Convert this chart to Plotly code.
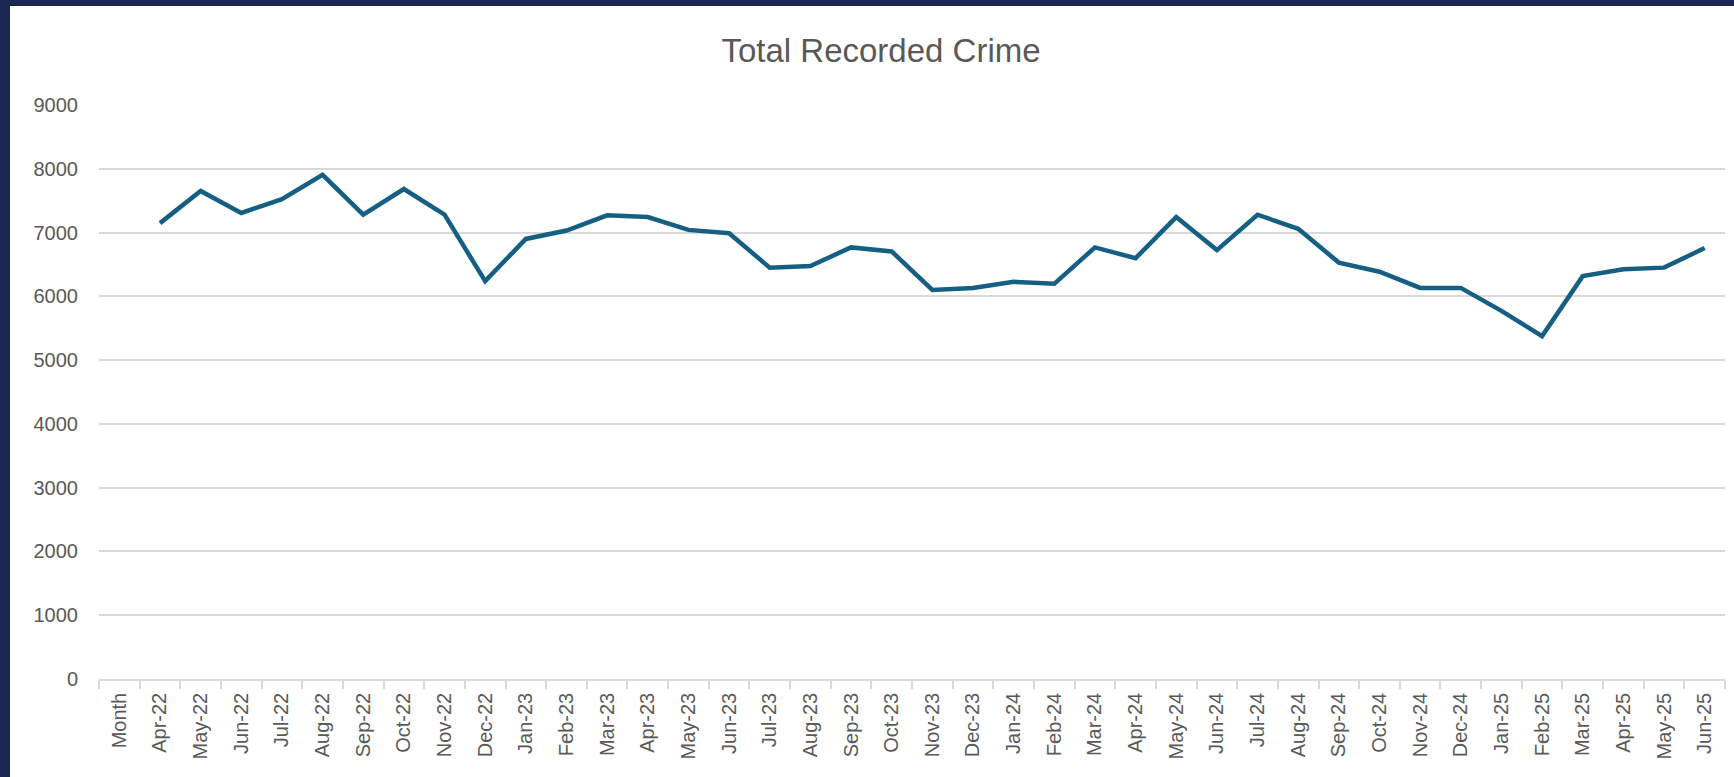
import plotly.graph_objects as go

months = ["Month",
          "Apr-22", "May-22", "Jun-22", "Jul-22", "Aug-22", "Sep-22", "Oct-22", "Nov-22", "Dec-22",
          "Jan-23", "Feb-23", "Mar-23", "Apr-23", "May-23", "Jun-23", "Jul-23", "Aug-23", "Sep-23",
          "Oct-23", "Nov-23", "Dec-23", "Jan-24", "Feb-24", "Mar-24", "Apr-24", "May-24", "Jun-24",
          "Jul-24", "Aug-24", "Sep-24", "Oct-24", "Nov-24", "Dec-24", "Jan-25", "Feb-25", "Mar-25",
          "Apr-25", "May-25", "Jun-25"]

total_crime = [None,
               7148, 7651, 7307, 7524, 7905, 7280, 7683, 7280, 6238,
               6900, 7032, 7270, 7243, 7042, 6990, 6450, 6476, 6767,
               6704, 6100, 6132, 6228, 6196, 6767, 6598, 7243, 6725,
               7280, 7058, 6529, 6386, 6132, 6132, 5772, 5376, 6317,
               6423, 6450, 6757]

y_ticks = [0, 1000, 2000, 3000, 4000, 5000, 6000, 7000, 8000, 9000]

W, H = 1734, 777
grid = "#d9d9d9"
txt = "#595959"

fig = go.Figure()
fig.add_trace(go.Scatter(
    x=months, y=total_crime, mode="lines",
    line=dict(color="#156082", width=4.5),
    connectgaps=False, hoverinfo="x+y", showlegend=False,
))

fig.update_layout(
    width=W, height=H,
    paper_bgcolor="#1a2654",
    plot_bgcolor="#ffffff",
    margin=dict(l=99, r=9, t=105, b=98, pad=0),
    title=dict(text="Total Recorded Crime", x=881 / W, xref="container", xanchor="center",
               y=1 - 50 / H, yref="container", yanchor="middle",
               font=dict(family="Liberation Sans, Arial, sans-serif", size=33, color=txt)),
    font=dict(family="Liberation Sans, Arial, sans-serif", color=txt),
    shapes=[dict(type="rect", xref="paper", yref="paper", layer="below",
                 x0=-(99 - 10) / (W - 99 - 9), x1=1 + 9 / (W - 99 - 9),
                 y0=-98 / (H - 105 - 98), y1=1 + (105 - 6) / (H - 105 - 98),
                 fillcolor="#ffffff", line=dict(width=0))],
)

fig.update_xaxes(
    type="category", categoryorder="array", categoryarray=months,
    range=[-0.5, len(months) - 0.5],
    showgrid=False, showline=True, linecolor=grid, linewidth=1.5,
    ticks="outside", tickson="boundaries", ticklen=8, tickcolor=grid, tickwidth=1.5,
    tickangle=-90, tickfont=dict(size=20, color=txt), ticklabelstandoff=4,
    zeroline=False, fixedrange=True,
)
fig.update_yaxes(
    range=[0, 9000], tickvals=y_ticks, ticktext=[str(v) for v in y_ticks],
    showgrid=True, gridcolor=grid, gridwidth=1.5,
    showline=False, zeroline=False, ticks="",
    tickfont=dict(size=20, color=txt), ticklabelstandoff=20, fixedrange=True,
)

fig.write_html(
    "out.html",
    config={"displayModeBar": False},
    post_script="document.body.style.margin='0';document.body.style.overflow='hidden';"
                "document.body.style.background='#1a2654';",
)
